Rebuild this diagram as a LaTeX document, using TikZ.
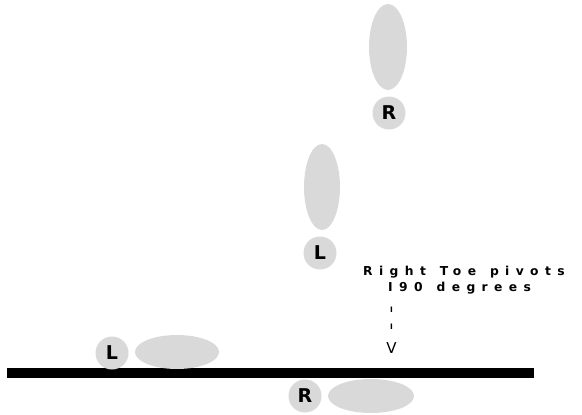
\documentclass[tikz,border=0pt]{standalone}
\usepackage{fontspec}
\setmainfont{DejaVu Sans}
\newfontfamily\spaced[LetterSpace=52,WordSpace=1.3]{DejaVu Sans}
\begin{document}
\begin{tikzpicture}[x=1pt,y=-1pt,
  pad/.style={fill=black!15,draw=none},
  footlabel/.style={circle,fill=black!15,minimum size=33pt,inner sep=0pt,font=\bfseries\fontsize{19}{19}\selectfont},
  caption/.style={inner sep=0pt,anchor=base west,font=\spaced\bfseries\fontsize{12.3}{13}\selectfont},
  tick/.style={inner sep=0pt,anchor=base,font=\bfseries\fontsize{7.5}{8}\selectfont},
  tip/.style={inner sep=0pt,anchor=base,font=\fontsize{15}{15}\selectfont}]
\useasboundingbox (0,0) rectangle (582,415);
% ground line
\fill (7,368) rectangle (534,378);
% right foot, top
\fill[pad] (388,47) ellipse [x radius=19, y radius=43];
\node[footlabel] (r1) at (389,113) {R};
% left foot, middle
\fill[pad] (322,187) ellipse [x radius=18, y radius=43];
\node[footlabel] (l1) at (320,253) {L};
% left foot on the line
\node[footlabel] (l2) at (112,353) {L};
\fill[pad] (177,352) ellipse [x radius=42, y radius=17];
% right foot under the line
\node[footlabel] (r2) at (305,396) {R};
\fill[pad] (371,396) ellipse [x radius=43, y radius=17];
% note with its dashed pointer
\node[caption] (t1) at (363,275) {Right Toe pivots};
\node[caption] (t2) at (388,291) {I90 degrees};
\node[tick] (d1) at (391.5,312) {I};
\node[tick] (d2) at (391.5,329) {I};
\node[tip] (v) at (391.5,353) {V};
\end{tikzpicture}
\end{document}
